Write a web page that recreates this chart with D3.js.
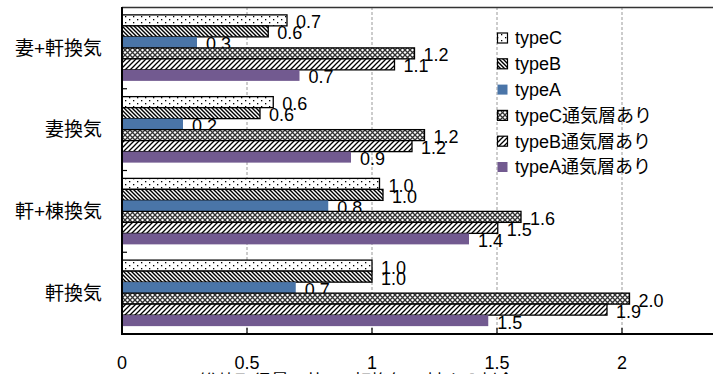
<!DOCTYPE html>
<html><head><meta charset="utf-8">
<script src="https://cdn.jsdelivr.net/npm/d3@7"></script>
<style>
html,body{margin:0;padding:0;background:#fff;overflow:hidden;}
svg{display:block;}
text{font-family:"Liberation Sans","Noto Sans CJK JP",sans-serif;fill:#000;}
</style></head>
<body><svg id="c" width="713" height="374"></svg>
<script>
const categories = ["妻+軒換気","妻換気","軒+棟換気","軒換気"];
const seriesNames = ["typeC","typeB","typeA","typeC通気層あり","typeB通気層あり","typeA通気層あり"];
const typeC      = [0.66, 0.605, 1.03, 1.00];
const typeB      = [0.585, 0.552, 1.044, 1.00];
const typeA      = [0.30, 0.244, 0.825, 0.695];
const typeCvent  = [1.17, 1.21, 1.596, 2.03];
const typeBvent  = [1.09, 1.16, 1.503, 1.94];
const typeAvent  = [0.71, 0.916, 1.388, 1.465];
const xTicks = [0, 0.5, 1, 1.5, 2];
const xTitle = "総熱取得量の比 ― 軒換気に対する割合";

const seriesValues = [typeC, typeB, typeA, typeCvent, typeBvent, typeAvent];
const fills = ["url(#pDots)","url(#pDn)","#4a75a8","url(#pCross)","url(#pUp)","#725a90"];
const stroked = [true,true,false,true,true,false];

const svg = d3.select("#c");
const defs = svg.append("defs");
// dotted
let p = defs.append("pattern").attr("id","pDots").attr("patternUnits","userSpaceOnUse").attr("width",8).attr("height",6);
p.append("rect").attr("width",8).attr("height",6).attr("fill","#fff");
p.append("rect").attr("x",1).attr("y",1).attr("width",1.3).attr("height",1.3).attr("fill","#000");
p.append("rect").attr("x",5).attr("y",4).attr("width",1.3).attr("height",1.3).attr("fill","#000");
// down diagonal
p = defs.append("pattern").attr("id","pDn").attr("patternUnits","userSpaceOnUse").attr("width",4).attr("height",4);
p.append("rect").attr("width",4).attr("height",4).attr("fill","#fff");
p.append("path").attr("d","M-1,-1L5,5M-1,3L1,5M3,-1L5,1").attr("stroke","#000").attr("stroke-width",1.4);
// up diagonal
p = defs.append("pattern").attr("id","pUp").attr("patternUnits","userSpaceOnUse").attr("width",5).attr("height",5);
p.append("rect").attr("width",5).attr("height",5).attr("fill","#fff");
p.append("path").attr("d","M-1,6L6,-1M-1,1L1,-1M4,6L6,4").attr("stroke","#000").attr("stroke-width",1.3);
// cross with dots
p = defs.append("pattern").attr("id","pCross").attr("patternUnits","userSpaceOnUse").attr("width",5).attr("height",5);
p.append("rect").attr("width",5).attr("height",5).attr("fill","#fff");
p.append("path").attr("d","M-1,-1L6,6M-1,6L6,-1").attr("stroke","#333").attr("stroke-width",1.3);

const mLeft = 122, mTop = 7, mBottom = 334;
const x = d3.scaleLinear().domain([0, 2.5]).range([mLeft, mLeft + 625]);
const y = d3.scaleBand().domain(categories).range([mTop, mBottom]).paddingInner(0).paddingOuter(0);
const yi = d3.scaleBand().domain(seriesNames).range([0, y.bandwidth()]).paddingInner(0).paddingOuter(0.716);

// gridlines
svg.append("g").selectAll("line").data(xTicks.filter(d => d > 0)).join("line")
  .attr("x1", d => x(d)).attr("x2", d => x(d)).attr("y1", mTop).attr("y2", mBottom)
  .attr("stroke","#999").attr("stroke-width",1).attr("stroke-dasharray","3,2");

// top frame
svg.append("line").attr("x1",mLeft).attr("x2",713).attr("y1",mTop+0.5).attr("y2",mTop+0.5).attr("stroke","#333").attr("stroke-width",1.5);

const fmt = d3.format(".1f");
seriesNames.forEach((s, si) => {
  const g = svg.append("g");
  const vals = seriesValues[si];
  g.selectAll("rect").data(categories).join("rect")
    .attr("x", x(0))
    .attr("y", c => y(c) + yi(s))
    .attr("width", (c, i) => x(vals[i]) - x(0))
    .attr("height", yi.bandwidth())
    .attr("fill", fills[si])
    .attr("stroke", stroked[si] ? "#000" : "none")
    .attr("stroke-width", 1.3);
  g.selectAll("text").data(categories).join("text")
    .attr("x", (c, i) => x(vals[i]) + 9)
    .attr("y", c => y(c) + yi(s) + yi.bandwidth() / 2 + 1.5)
    .attr("dy", "0.36em")
    .attr("font-size", 18)
    .text((c, i) => fmt(vals[i]));
});

// left axis
const ya = svg.append("g").attr("transform", `translate(${mLeft},0)`);
ya.append("line").attr("x1",0).attr("x2",0).attr("y1",mTop).attr("y2",mBottom+1).attr("stroke","#000").attr("stroke-width",2);
const bounds = categories.slice(1).map(c => y(c));
ya.selectAll(".tk").data(bounds).join("line").attr("class","tk")
  .attr("x1",0).attr("x2",5).attr("y1",d=>d).attr("y2",d=>d).attr("stroke","#000").attr("stroke-width",1.2);
ya.selectAll("text").data(categories).join("text")
  .attr("x", -20).attr("y", c => y(c) + y.bandwidth() / 2).attr("dy","0.36em")
  .attr("text-anchor","end").attr("font-size",19).text(c => c);

// bottom axis
const xa = svg.append("g");
xa.append("line").attr("x1",mLeft-1).attr("x2",713).attr("y1",mBottom).attr("y2",mBottom).attr("stroke","#000").attr("stroke-width",2.2);
xa.selectAll(".tk").data(xTicks.filter(d=>d>0)).join("line").attr("class","tk")
  .attr("x1",d=>x(d)).attr("x2",d=>x(d)).attr("y1",mBottom).attr("y2",mBottom-6).attr("stroke","#000").attr("stroke-width",1.2);
xa.selectAll("text").data(xTicks).join("text")
  .attr("x", d => x(d)).attr("y", 369).attr("text-anchor","middle").attr("font-size",18)
  .text(d => d3.format("")(d));
svg.append("text").attr("x",357).attr("y",388).attr("text-anchor","middle").attr("font-size",18).text(xTitle);

// legend
const lg = svg.append("g");
seriesNames.forEach((s, si) => {
  const cy = 38 + si * 25.8;
  lg.append("rect").attr("x",497.5).attr("y",cy-5).attr("width",10).attr("height",10)
    .attr("fill",fills[si]).attr("stroke",stroked[si] ? "#000" : "none").attr("stroke-width",1.2);
  lg.append("text").attr("x",515).attr("y",cy).attr("dy","0.36em").attr("font-size",18).text(s);
});
</script></body></html>
